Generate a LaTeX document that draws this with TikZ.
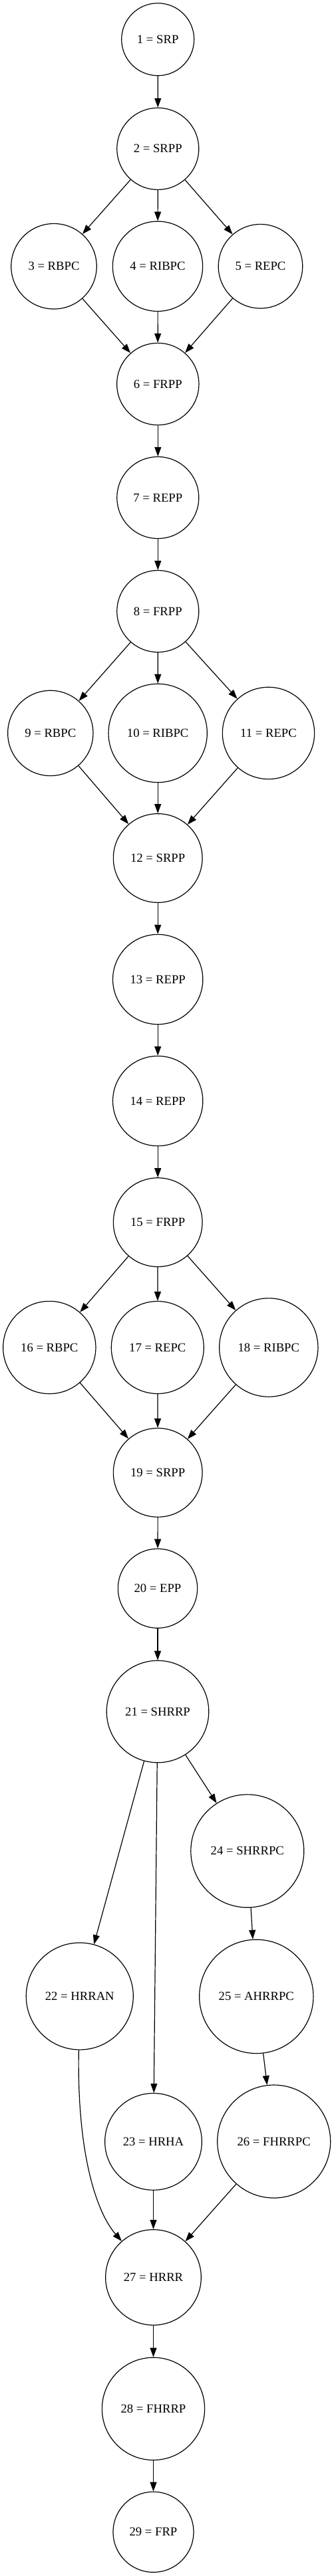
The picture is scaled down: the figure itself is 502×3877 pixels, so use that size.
\documentclass[tikz,border=0pt]{standalone}
\usepackage{fontspec}
\setmainfont{Liberation Serif}
\usetikzlibrary{arrows.meta}
\begin{document}
\begin{tikzpicture}[x=0.75pt,y=-0.75pt,
  st/.style={draw, circle, inner sep=0pt, line width=0.9pt, font=\fontsize{14}{16}\selectfont, minimum size=#1*0.75pt},
  e/.style={-{Triangle[length=10.5pt,width=7.5pt]}, line width=0.9pt}]
\path[use as bounding box] (0,0) rectangle (502,3877);
\node[st=109]   (n1)  at (237.2,59.3)   {1 = SRP};
\node[st=123]   (n2)  at (237.3,223.9)  {2 = SRPP};
\node[st=128.5] (n3)  at (81,400.8)     {3 = RBPC};
\node[st=135.3] (n4)  at (237,400.8)    {4 = RIBPC};
\node[st=126.5] (n5)  at (391.5,400.8)  {5 = REPC};
\node[st=123.3] (n6)  at (237.3,578)    {6 = FRPP};
\node[st=123]   (n7)  at (237.3,749)    {7 = REPP};
\node[st=123]   (n8)  at (237.3,920)    {8 = FRPP};
\node[st=128.3] (n9)  at (75.8,1103.4)  {9 = RBPC};
\node[st=148.3] (n10) at (237.2,1103.4) {10 = RIBPC};
\node[st=138.3] (n11) at (403.5,1103.4) {11 = REPC};
\node[st=133.7] (n12) at (237.2,1291.5) {12 = SRPP};
\node[st=135.3] (n13) at (237.2,1474)   {13 = REPP};
\node[st=135.3] (n14) at (237.2,1657)   {14 = REPP};
\node[st=133.7] (n15) at (237.2,1839.6) {15 = FRPP};
\node[st=139.3] (n16) at (74.3,2028)    {16 = RBPC};
\node[st=139]   (n17) at (236.8,2028)   {17 = REPC};
\node[st=148.3] (n18) at (403.8,2028)   {18 = RIBPC};
\node[st=133.7] (n19) at (237.2,2216.3) {19 = SRPP};
\node[st=119.3] (n20) at (237,2390.6)   {20 = EPP};
\node[st=153.5] (n21) at (237,2576)     {21 = SHRRP};
\node[st=161]   (n22) at (119.8,3004.4) {22 = HRRAN};
\node[st=145.7] (n23) at (230.5,3223.3) {23 = HRHA};
\node[st=170]   (n24) at (371.8,2785.8) {24 = SHRRPC};
\node[st=171.3] (n25) at (385.3,3004.8) {25 = AHRRPC};
\node[st=170]   (n26) at (411.7,3223)   {26 = FHRRPC};
\node[st=143.7] (n27) at (230.5,3427.5) {27 = HRRR};
\node[st=154.3] (n28) at (230.5,3625.3) {28 = FHRRP};
\node[st=121]   (n29) at (230.5,3810.8) {29 = FRP};
\coordinate (c1) at (115.5,3240);
\coordinate (c2) at (144.5,3329);
\draw[e] (n1) -- (n2);
\draw[e] (n2) -- (n3);
\draw[e] (n2) -- (n4);
\draw[e] (n2) -- (n5);
\draw[e] (n3) -- (n6);
\draw[e] (n4) -- (n6);
\draw[e] (n5) -- (n6);
\draw[e] (n6) -- (n7);
\draw[e] (n7) -- (n8);
\draw[e] (n8) -- (n9);
\draw[e] (n8) -- (n10);
\draw[e] (n8) -- (n11);
\draw[e] (n9) -- (n12);
\draw[e] (n10) -- (n12);
\draw[e] (n11) -- (n12);
\draw[e] (n12) -- (n13);
\draw[e] (n13) -- (n14);
\draw[e] (n14) -- (n15);
\draw[e] (n15) -- (n16);
\draw[e] (n15) -- (n17);
\draw[e] (n15) -- (n18);
\draw[e] (n16) -- (n19);
\draw[e] (n17) -- (n19);
\draw[e] (n18) -- (n19);
\draw[e] (n19) -- (n20);
\draw[e] (n20) -- (n21);
\draw[e] (n21) -- (n22);
\draw[e] (n21) -- (n23);
\draw[e] (n21) -- (n24);
\draw[e] (n24) -- (n25);
\draw[e] (n25) -- (n26);
\draw[e] (n22) .. controls (c1) and (c2) .. (n27);
\draw[e] (n23) -- (n27);
\draw[e] (n26) -- (n27);
\draw[e] (n27) -- (n28);
\draw[e] (n28) -- (n29);
\end{tikzpicture}
\end{document}
